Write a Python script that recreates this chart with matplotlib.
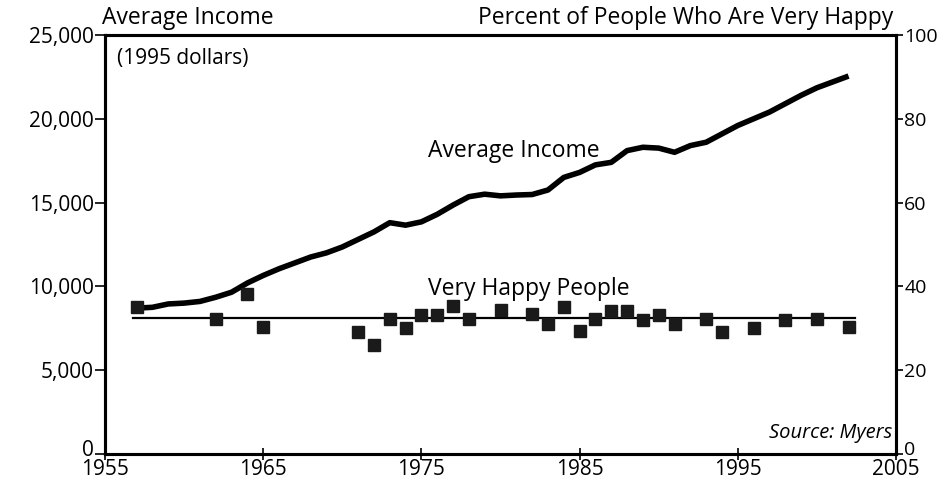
"""Average income vs. percent of very happy people, 1957-2002."""

import matplotlib

matplotlib.use("Agg")
import matplotlib.pyplot as plt
from matplotlib.ticker import FuncFormatter
from matplotlib.transforms import ScaledTranslation

plt.rcParams["font.family"] = ["Open Sans", "DejaVu Sans"]

INCOME_YEARS = list(range(1957, 2003))
INCOME = [
    8700, 8750, 8950, 9000, 9100, 9350, 9650, 10200, 10650, 11050,
    11400, 11750, 12000, 12350, 12800, 13250, 13800, 13650, 13850, 14300,
    14850, 15350, 15500, 15400, 15450, 15480, 15750, 16500, 16800, 17250,
    17400, 18100, 18300, 18250, 18000, 18400, 18600, 19100, 19600, 20000,
    20400, 20900, 21400, 21850, 22200, 22550,
]

HAPPY_YEARS = [
    1957, 1962, 1964, 1965, 1971, 1972, 1973, 1974, 1975, 1976, 1977, 1978,
    1980, 1982, 1983, 1984, 1985, 1986, 1987, 1988, 1989, 1990, 1991, 1993,
    1994, 1996, 1998, 2000, 2002,
]
HAPPY = [
    35.1, 32.2, 38.1, 30.2, 29.0, 26.1, 32.1, 30.1, 33.1, 33.1, 35.2, 32.2,
    34.3, 33.3, 31.0, 35.0, 29.4, 32.1, 34.2, 34.2, 32.0, 33.2, 31.0, 32.2,
    29.1, 30.1, 32.0, 32.1, 30.2,
]
HAPPY_LEVEL = 32.5
HAPPY_SPAN = [1956.8, 2002.4]

fig = plt.figure(figsize=(9.41, 4.86), dpi=100)
ax = fig.add_axes([0.1116, 0.066, 0.8406, 0.862])
ax2 = ax.twinx()

ax.plot(INCOME_YEARS, INCOME, color="black", linewidth=4.0, solid_capstyle="butt", zorder=3)
ax2.plot(HAPPY_SPAN, [HAPPY_LEVEL, HAPPY_LEVEL], color="black", linewidth=1.6, zorder=2)
ax2.plot(HAPPY_YEARS, HAPPY, linestyle="none", marker="s", markersize=8.5,
         color="#1a1a1a", zorder=3)

ax.set_xlim(1955, 2005)
ax.set_ylim(0, 25000)
ax2.set_ylim(0, 100)
ax.set_xticks(range(1955, 2006, 10))
ax.set_yticks(range(0, 25001, 5000))
ax2.set_yticks(range(0, 101, 20))
ax.yaxis.set_major_formatter(FuncFormatter(lambda v, _: f"{int(v):,}"))

for a in (ax, ax2):
    for side in a.spines.values():
        side.set_linewidth(2.2)
ax.tick_params(axis="y", direction="out", length=7, width=1.2, labelsize=15, pad=1)
ax.tick_params(axis="x", direction="inout", length=8, width=1.2, labelsize=15, pad=0)
ax2.tick_params(axis="y", direction="out", length=5, width=1.2, labelsize=14, pad=1)
# nudge the two "0" labels up a few pixels so they clear the year labels
lift = ScaledTranslation(0, 4 / 72, fig.dpi_scale_trans)
for lab in (ax.get_yticklabels()[0], ax2.get_yticklabels()[0]):
    lab.set_transform(lab.get_transform() + lift)

ax.text(1975.4, 18050, "Average Income", fontsize=16.5, ha="left", va="center")
ax.text(1975.4, 9860, "Very Happy People", fontsize=16.5, ha="left", va="center")
ax.text(0.015, 0.945, "(1995 dollars)", transform=ax.transAxes, fontsize=15,
        ha="left", va="center")
ax.text(0.995, 0.05, "Source: Myers", transform=ax.transAxes, fontsize=14.5,
        style="italic", ha="right", va="center")

fig.text(0.108, 0.963, "Average Income", fontsize=16.5, ha="left", va="center")
fig.text(0.949, 0.963, "Percent of People Who Are Very Happy", fontsize=16.5,
         ha="right", va="center")

fig.savefig("out.png", dpi=100)
